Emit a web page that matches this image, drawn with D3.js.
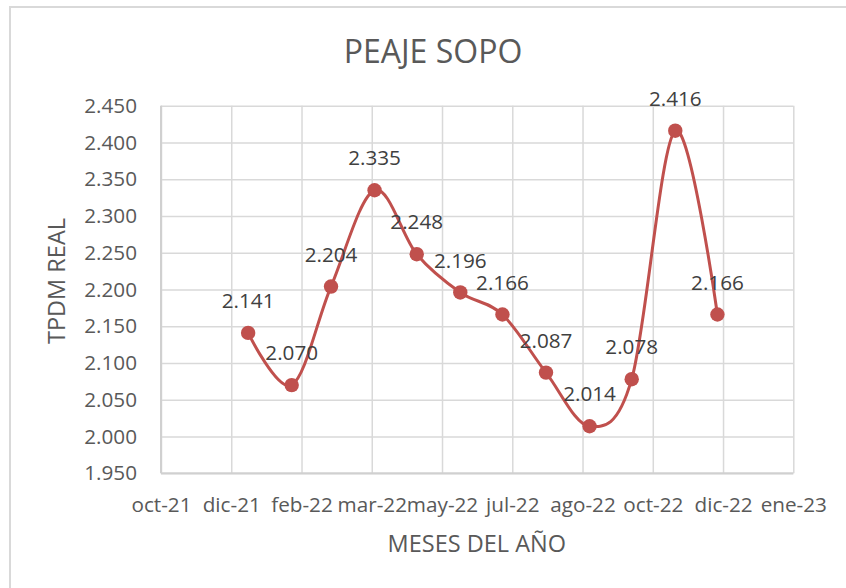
<!DOCTYPE html>
<html>
<head>
<meta charset="utf-8">
<script src="https://cdn.jsdelivr.net/npm/d3@7"></script>
<style>
  html, body { margin: 0; padding: 0; background: #fff; }
  svg { display: block; font-family: "Open Sans", sans-serif; }
</style>
</head>
<body>
<svg id="chart" width="846" height="588"></svg>
<script>
// Monthly TPDM (tráfico promedio diario mensual) at the Sopó toll station
const months = ["2022-01-01", "2022-02-01", "2022-03-01", "2022-04-01", "2022-05-01", "2022-06-01",
                "2022-07-01", "2022-08-01", "2022-09-01", "2022-10-01", "2022-11-01", "2022-12-01"];
const tpdm = [2141, 2070, 2204, 2335, 2248, 2196, 2166, 2087, 2014, 2078, 2416, 2166];

// Date axis: first tick and spacing in days, with its labels
const axisStart = "2021-10-31";
const tickStepDays = 50;
const tickLabels = ["oct-21", "dic-21", "feb-22", "mar-22", "may-22", "jul-22", "ago-22", "oct-22", "dic-22", "ene-23"];

// Value axis
const yTicks = [1950, 2000, 2050, 2100, 2150, 2200, 2250, 2300, 2350, 2400, 2450];

const chartTitle = "PEAJE SOPO";
const xTitle = "MESES DEL AÑO";
const yTitle = "TPDM REAL";

const svg = d3.select("#chart");
const parse = d3.timeParse("%Y-%m-%d");
const esLocale = d3.formatLocale({ decimal: ",", thousands: ".", grouping: [3], currency: ["$", ""] });
const fmt = esLocale.format(",");

const plot = { left: 161, right: 793.3, top: 105.7, bottom: 473.3 };

const start = parse(axisStart);
const tickDates = tickLabels.map((_, i) => d3.timeDay.offset(start, i * tickStepDays));

const x = d3.scaleTime()
  .domain([tickDates[0], tickDates[tickDates.length - 1]])
  .range([plot.left, plot.right]);
const y = d3.scaleLinear()
  .domain([yTicks[0], yTicks[yTicks.length - 1]])
  .range([plot.bottom, plot.top]);

// Chart area frame
svg.append("rect")
  .attr("x", 10).attr("y", 7)
  .attr("width", 860).attr("height", 600)
  .attr("fill", "#fff")
  .attr("stroke", "#d9d9d9").attr("stroke-width", 2);

// Title
svg.append("text")
  .attr("x", 433).attr("y", 62.5)
  .attr("text-anchor", "middle")
  .attr("font-size", 32)
  .attr("fill", "#595959")
  .text(chartTitle);

const gridColor = "#d9d9d9";

// Horizontal gridlines + y axis labels
const yAxis = d3.axisLeft(y).tickValues(yTicks).tickFormat(fmt)
  .tickSize(-(plot.right - plot.left)).tickPadding(24);
const gy = svg.append("g").attr("transform", `translate(${plot.left},0)`).call(yAxis);
gy.select(".domain").remove();
gy.selectAll(".tick line").attr("stroke", gridColor).attr("stroke-width", 1.5);
gy.selectAll(".tick text")
  .attr("font-size", 20.7).attr("fill", "#595959")
  .attr("font-family", "Open Sans, sans-serif");

// Vertical gridlines + date labels
const xAxis = d3.axisBottom(x).tickValues(tickDates)
  .tickFormat((d, i) => tickLabels[i])
  .tickSize(-(plot.bottom - plot.top)).tickPadding(24);
const gx = svg.append("g").attr("transform", `translate(0,${plot.bottom})`).call(xAxis);
gx.select(".domain").remove();
gx.selectAll(".tick line").attr("stroke", gridColor).attr("stroke-width", 1.5);
gx.selectAll(".tick text")
  .attr("font-size", 20.7).attr("fill", "#595959")
  .attr("font-family", "Open Sans, sans-serif");

// Axis lines
svg.append("line")
  .attr("x1", plot.left).attr("x2", plot.left)
  .attr("y1", plot.top).attr("y2", plot.bottom)
  .attr("stroke", "#d0d0d0").attr("stroke-width", 2);
svg.append("line")
  .attr("x1", plot.left).attr("x2", plot.right)
  .attr("y1", plot.bottom).attr("y2", plot.bottom)
  .attr("stroke", "#d0d0d0").attr("stroke-width", 2);

// Axis titles
svg.append("text")
  .attr("x", plot.left + (plot.right - plot.left) / 2 - 0.3)
  .attr("y", 551.5)
  .attr("text-anchor", "middle")
  .attr("font-size", 23.5)
  .attr("fill", "#595959")
  .text(xTitle);
svg.append("text")
  .attr("transform", "translate(64.5,281) rotate(-90)")
  .attr("text-anchor", "middle")
  .attr("font-size", 23.5)
  .attr("fill", "#595959")
  .text(yTitle);

// Series
const data = months.map((m, i) => ({ date: parse(m), value: tpdm[i] }));
const lineColor = "#C0504D";

const line = d3.line()
  .x(d => x(d.date))
  .y(d => y(d.value))
  .curve(d3.curveCardinal.tension(0));

svg.append("path")
  .datum(data)
  .attr("d", line)
  .attr("fill", "none")
  .attr("stroke", lineColor)
  .attr("stroke-width", 3)
  .attr("stroke-linejoin", "round")
  .attr("stroke-linecap", "round");

svg.append("g").selectAll("circle")
  .data(data)
  .join("circle")
  .attr("cx", d => x(d.date))
  .attr("cy", d => y(d.value))
  .attr("r", 7.2)
  .attr("fill", lineColor);

// Data labels above each point
svg.append("g").selectAll("text")
  .data(data)
  .join("text")
  .attr("x", d => x(d.date))
  .attr("y", d => y(d.value) - 32)
  .attr("dy", "0.35em")
  .attr("text-anchor", "middle")
  .attr("font-size", 20.7)
  .attr("fill", "#404040")
  .text(d => fmt(d.value));
</script>
</body>
</html>
